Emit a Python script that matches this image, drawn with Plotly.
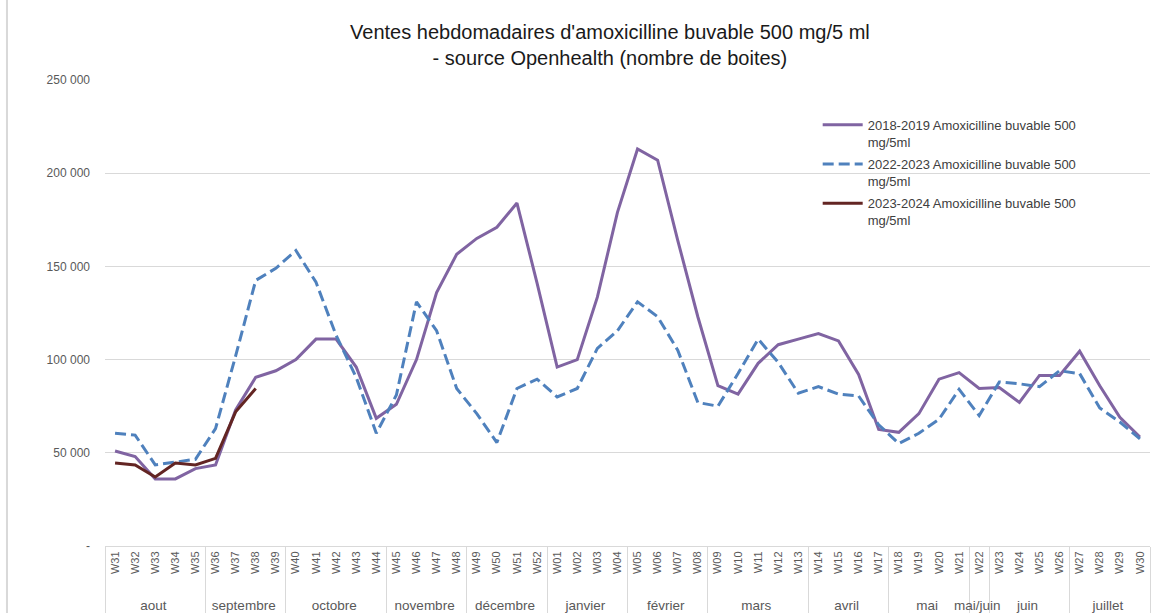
import plotly.graph_objects as go

# ---- data ----
months = ["aout", "septembre", "octobre", "novembre", "décembre", "janvier", "février",
          "mars", "avril", "mai", "mai/juin", "juin", "juillet"]
month_weeks = [
    ["W31", "W32", "W33", "W34", "W35"],
    ["W36", "W37", "W38", "W39"],
    ["W40", "W41", "W42", "W43", "W44"],
    ["W45", "W46", "W47", "W48"],
    ["W49", "W50", "W51", "W52"],
    ["W01", "W02", "W03", "W04"],
    ["W05", "W06", "W07", "W08"],
    ["W09", "W10", "W11", "W12", "W13"],
    ["W14", "W15", "W16", "W17"],
    ["W18", "W19", "W20", "W21"],
    ["W22"],
    ["W23", "W24", "W25", "W26"],
    ["W27", "W28", "W29", "W30"],
]

s2018_2019 = [51000, 48000, 36000, 36000, 41500, 43500, 73000, 90500, 94000, 100000,
              111000, 111000, 96000, 68500, 76000, 100000, 136000, 156500, 165000, 171000,
              184000, 141000, 96000, 100000, 133500, 179000, 213000, 207000, 164000, 123000,
              86000, 81500, 98000, 108000, 111000, 114000, 110000, 92000, 62500, 61000,
              71000, 89500, 93000, 84500, 85000, 77000, 91500, 91500, 104500, 86000,
              69000, 58500]
s2022_2023 = [60500, 59500, 43500, 45000, 46500, 63000, 102000, 142500, 149000, 158500,
              141500, 113000, 90500, 60500, 81000, 131000, 115500, 84500, 71000, 55500,
              84500, 89500, 80000, 84500, 106000, 115500, 131000, 123000, 105000, 77000,
              75000, 92500, 111000, 98500, 82000, 85500, 81500, 80500, 65000, 55000,
              60500, 68000, 84000, 70000, 88000, 87000, 85500, 94000, 92500, 74000,
              66500, 57500]
s2023_2024 = [44500, 43500, 37000, 44500, 43500, 47000, 72000, 84500]

names = ["2018-2019 Amoxicilline buvable 500<br>mg/5ml",
         "2022-2023 Amoxicilline buvable 500<br>mg/5ml",
         "2023-2024 Amoxicilline buvable 500<br>mg/5ml"]

ytick_vals = [0, 50000, 100000, 150000, 200000, 250000]
ytick_text = ["-", "50 000", "100 000", "150 000", "200 000", "250 000"]

# ---- build multicategory x ----
x_month = []
x_week = []
for m, wl in zip(months, month_weeks):
    for w in wl:
        x_month.append('<br><span style="font-size:13.5px">' + m + '</span>')
        x_week.append(w)

FONT = "Liberation Sans"

fig = go.Figure()
fig.add_trace(go.Scatter(x=[x_month, x_week], y=s2018_2019, mode="lines", name=names[0],
                         legendgroup="a",
                         line=dict(color="#8064A2", width=3)))
fig.add_trace(go.Scatter(x=[x_month, x_week], y=s2022_2023, mode="lines", name=names[1],
                         legendgroup="b",
                         line=dict(color="#4F81BD", width=3, dash="11px,5px")))
n3 = len(s2023_2024)
fig.add_trace(go.Scatter(x=[x_month[:n3], x_week[:n3]], y=s2023_2024, mode="lines", name=names[2],
                         legendgroup="c",
                         line=dict(color="#632523", width=3)))

fig.update_layout(
    width=1153, height=613,
    margin=dict(l=105, r=3, t=80, b=67, autoexpand=False),
    paper_bgcolor="white", plot_bgcolor="white",
    font=dict(family=FONT, color="#595959"),
    title=dict(text="Ventes hebdomadaires d'amoxicilline buvable 500 mg/5 ml<br>- source Openhealth (nombre de boites)",
               x=0.529, xanchor="center", y=0.936, yanchor="top",
               font=dict(family=FONT, size=20, color="#1a1a1a")),
    legend=dict(x=0.682, y=0.936, xanchor="left", yanchor="top", valign="top",
                font=dict(family=FONT, size=13, color="#404040"),
                bgcolor="rgba(0,0,0,0)", itemwidth=40, tracegroupgap=2.5),
    showlegend=True,
)
fig.update_xaxes(type="multicategory", range=[-0.5, 51.5], tickangle=-90, showdividers=True,
                 dividercolor="#d9d9d9", dividerwidth=1, automargin=False,
                 showline=True, linecolor="#d9d9d9", linewidth=1,
                 showgrid=False, ticks="",
                 tickfont=dict(family=FONT, size=11, color="#595959"))
fig.update_yaxes(range=[0, 250000], tickvals=ytick_vals, ticktext=ytick_text,
                 showgrid=True, gridcolor="#d9d9d9", gridwidth=1, zeroline=False,
                 showline=False, ticks="", ticklabelstandoff=14, automargin=False,
                 tickfont=dict(family=FONT, size=12, color="#595959"))

# left chart-area border
fig.add_shape(type="line", xref="paper", yref="paper", x0=-0.0938, x1=-0.0938, y0=-0.15, y1=1.18,
              line=dict(color="#d9d9d9", width=2))

fig.write_html("out.html", config={"displayModeBar": False},
               post_script="document.body.style.margin='0';")
